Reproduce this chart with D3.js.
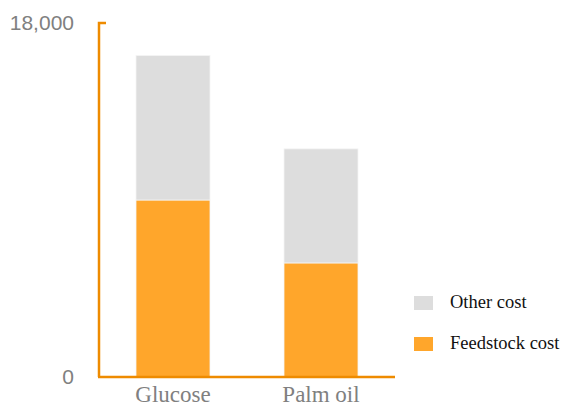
<!DOCTYPE html>
<html><head><meta charset="utf-8">
<script src="https://cdn.jsdelivr.net/npm/d3@7"></script>
<style>body{margin:0;background:#fff}</style>
</head><body>
<svg id="c" width="563" height="407"></svg>
<script>
const categories = ["Glucose", "Palm oil"];
const feedstockCost = [9000, 5800];
const otherCost = [7350, 5800];
const seriesNames = ["Feedstock cost", "Other cost"];
const seriesColors = ["#FFA62B", "#DDDDDD"];
const yTicks = [0, 18000];

const svg = d3.select("#c");
const x = d3.scaleBand().domain(categories).range([99, 395]).paddingInner(0.5).paddingOuter(0.25);
const y = d3.scaleLinear().domain([0, 18000]).range([377, 23]);

const rows = categories.map((c, i) => ({cat: c, "Feedstock cost": feedstockCost[i], "Other cost": otherCost[i]}));
const stack = d3.stack().keys(seriesNames)(rows);

svg.append("g").selectAll("g").data(stack).join("g")
  .attr("fill", (d, i) => seriesColors[i])
  .selectAll("rect").data(d => d).join("rect")
  .attr("x", d => x(d.data.cat))
  .attr("width", x.bandwidth())
  .attr("y", d => y(d[1]))
  .attr("height", d => y(d[0]) - y(d[1]))
  .attr("stroke", "#f4f4f4").attr("stroke-width", 0.8);

const axisColor = "#EE8B00";
// y axis
const ya = svg.append("g").attr("transform", "translate(99,0)")
  .call(d3.axisLeft(y).tickValues(yTicks).tickSize(0).tickPadding(25).tickFormat(d3.format(",")));
ya.select(".domain").remove();
ya.selectAll("text").attr("fill", "#808080").style("font-family", "Liberation Sans, Arial, sans-serif").style("font-size", "21px");
svg.append("path").attr("d", `M106,${y(18000)}H99V${y(0)}`).attr("fill", "none").attr("stroke", axisColor).attr("stroke-width", 2.5);
// x axis
const xa = svg.append("g").attr("transform", `translate(0,${y(0)})`)
  .call(d3.axisBottom(x).tickSize(0).tickPadding(9));
xa.select(".domain").attr("stroke", axisColor).attr("stroke-width", 2.5).attr("d", `M98,0H395`);
xa.selectAll("text").attr("fill", "#808080").style("font-family", "Liberation Serif, Times New Roman, serif").style("font-size", "23px");

// legend
const legendItems = ["Other cost", "Feedstock cost"];
const lg = svg.append("g").selectAll("g").data(legendItems).join("g")
  .attr("transform", (d, i) => `translate(414,${296 + i * 41})`);
lg.append("rect").attr("width", 19).attr("height", 14)
  .attr("fill", d => seriesColors[seriesNames.indexOf(d)]);
lg.append("text").attr("x", 36).attr("y", 12).text(d => d)
  .attr("fill", "#111").style("font-family", "Liberation Serif, Times New Roman, serif").style("font-size", "18.5px");
</script>
</body></html>
